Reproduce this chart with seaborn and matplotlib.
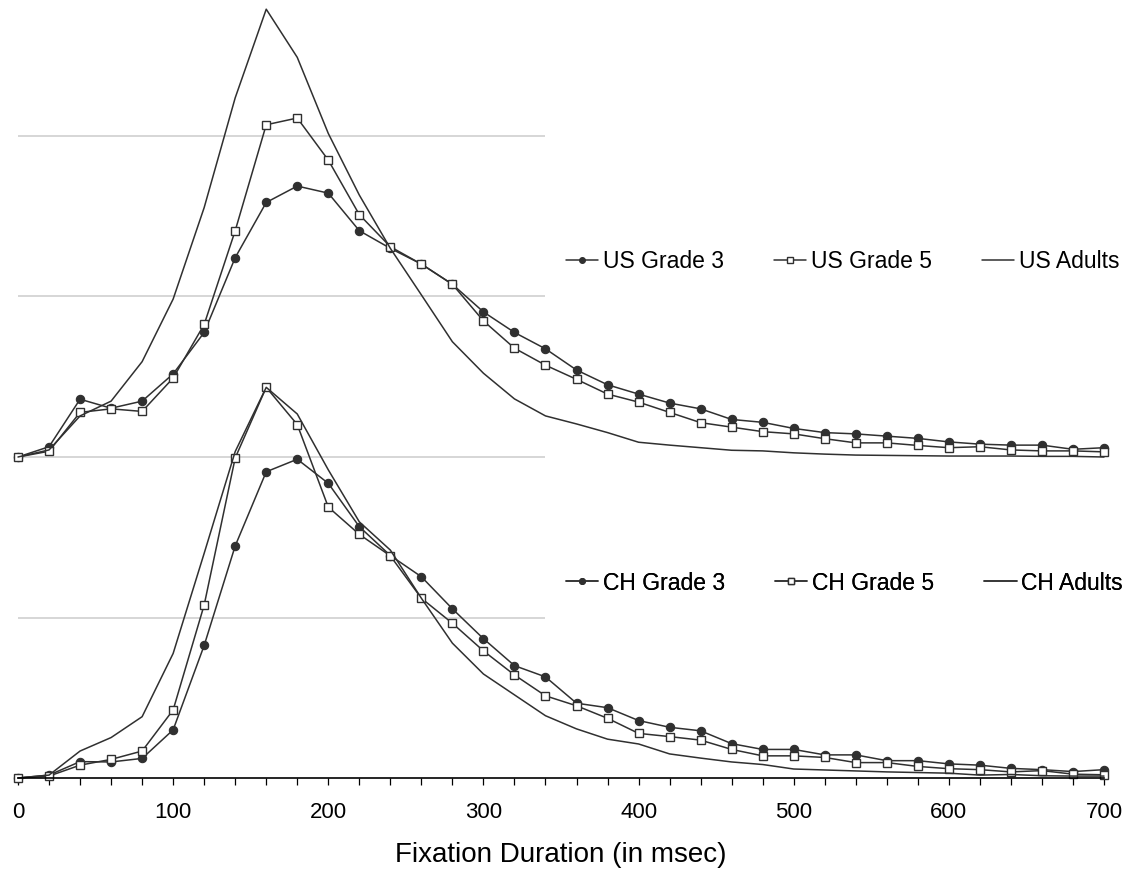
import numpy as np
import pandas as pd
import matplotlib
matplotlib.use('Agg')
import matplotlib.pyplot as plt
import seaborn as sns

# fixation duration bins (msec)
duration = [0, 20, 40, 60, 80, 100, 120, 140, 160, 180, 200, 220, 240, 260, 280, 300, 320, 340,
            360, 380, 400, 420, 440, 460, 480, 500, 520, 540, 560, 580, 600, 620, 640, 660, 680, 700]

# US readers (percent of fixations)
us_grade3 = [0, 0.32, 1.80, 1.52, 1.74, 2.59, 3.88, 6.21, 7.93, 8.44, 8.22, 7.05, 6.50, 6.01, 5.38, 4.52, 3.88, 3.37,
             2.71, 2.25, 1.96, 1.68, 1.50, 1.17, 1.08, 0.89, 0.76, 0.72, 0.65, 0.58, 0.47, 0.40, 0.37, 0.37, 0.24, 0.29]
us_grade5 = [0, 0.18, 1.39, 1.50, 1.42, 2.46, 4.13, 7.05, 10.35, 10.56, 9.25, 7.55, 6.55, 6.01, 5.38, 4.24, 3.39, 2.86,
             2.42, 1.96, 1.71, 1.39, 1.07, 0.93, 0.79, 0.72, 0.57, 0.44, 0.44, 0.36, 0.29, 0.32, 0.22, 0.19, 0.19, 0.16]
us_adults = [0, 0.22, 1.28, 1.74, 2.97, 4.92, 7.77, 11.19, 13.95, 12.45, 10.08, 8.16, 6.50, 5.05, 3.59, 2.61, 1.81, 1.28,
             1.03, 0.76, 0.46, 0.37, 0.29, 0.21, 0.19, 0.13, 0.09, 0.06, 0.05, 0.04, 0.03, 0.03, 0.03, 0.02, 0.02, 0.0]

# Chinese readers
ch_grade3 = [0, 0.09, 0.51, 0.50, 0.61, 1.50, 4.13, 7.23, 9.54, 9.93, 9.18, 7.83, 6.93, 6.27, 5.27, 4.34, 3.50, 3.15,
             2.33, 2.19, 1.79, 1.58, 1.47, 1.07, 0.89, 0.89, 0.72, 0.72, 0.54, 0.54, 0.44, 0.40, 0.30, 0.26, 0.20, 0.26]
ch_grade5 = [0, 0.06, 0.40, 0.58, 0.84, 2.12, 5.39, 9.97, 12.17, 11.01, 8.44, 7.59, 6.92, 5.60, 4.82, 3.96, 3.21, 2.56,
             2.25, 1.86, 1.39, 1.29, 1.18, 0.89, 0.69, 0.69, 0.64, 0.48, 0.48, 0.36, 0.29, 0.26, 0.19, 0.23, 0.12, 0.10]
ch_adults = [0, 0.09, 0.84, 1.26, 1.91, 3.88, 7.00, 10.17, 12.17, 11.34, 9.60, 7.98, 7.10, 5.60, 4.20, 3.24, 2.59, 1.94,
             1.53, 1.21, 1.06, 0.75, 0.62, 0.50, 0.42, 0.28, 0.25, 0.22, 0.19, 0.17, 0.15, 0.09, 0.11, 0.07, 0.06, 0.06]

groups = ['Grade 3', 'Grade 5', 'Adults']
US_OFFSET = 10  # US panel is stacked two gridlines above the CH panel

sns.set_style('white')
plt.rcParams['font.family'] = ['Liberation Sans', 'DejaVu Sans']
plt.rcParams['text.color'] = 'black'
plt.rcParams['axes.labelcolor'] = 'black'
plt.rcParams['xtick.color'] = 'black'

dark = '#303030'
styles = {
    'Grade 3': dict(marker='o', markersize=6, markerfacecolor=dark, markeredgecolor=dark, markeredgewidth=0.8),
    'Grade 5': dict(marker='s', markersize=6, markerfacecolor='white', markeredgecolor=dark, markeredgewidth=1.0),
    'Adults': dict(marker='', markeredgecolor=dark),
}

fig = plt.figure(figsize=(11.25, 8.71), dpi=100)
ax = fig.add_axes([18 / 1125, 1 - 778 / 871, (1104 - 18) / 1125, 778 / 871])

# partial gridlines on the left
ax.hlines([5, 10, 15, 20], 0, 340, color='#d0d0d0', lw=1.2, zorder=0)

panels = [('US', [us_grade3, us_grade5, us_adults], US_OFFSET, 262),
          ('CH', [ch_grade3, ch_grade5, ch_adults], 0, 583)]

for country, series, offset, leg_y in panels:
    handles = []
    labels = []
    for grp, vals in zip(groups, series):
        df = pd.DataFrame({'duration': duration, 'pct': np.array(vals) + offset})
        sns.lineplot(data=df, x='duration', y='pct', ax=ax, color=dark, lw=1.1,
                     clip_on=False, legend=False, **styles[grp])
        handles.append(ax.lines[-1])
        labels.append(f'{country} {grp}')
    leg = ax.legend(handles, labels, loc='center left',
                    bbox_to_anchor=(566 / 1125, 1 - leg_y / 871), bbox_transform=fig.transFigure,
                    ncol=3, frameon=False, fontsize=16.5, handlelength=1.4, handletextpad=0.2,
                    columnspacing=2.2, borderpad=0, borderaxespad=0, markerscale=0.7)
    for t in leg.get_texts():
        t.set_color('black')
    ax.add_artist(leg)

ax.set_xlim(0, 700)
ax.set_ylim(0, 778 * 5 / 160.5)
ax.set_yticks([])
ax.set_ylabel('')
ax.set_xticks(duration)
ax.set_xticklabels([str(d) if d % 100 == 0 else '' for d in duration])
ax.tick_params(axis='x', bottom=True, direction='out', length=5, width=0.9, color='black',
               labelcolor='black', labelsize=16, pad=12)
for side in ['left', 'top', 'right']:
    ax.spines[side].set_visible(False)
ax.spines['bottom'].set_color('black')
ax.spines['bottom'].set_linewidth(1.2)
ax.set_xlabel('Fixation Duration (in msec)', fontsize=20, labelpad=14, color='black')

fig.savefig('out.png', dpi=100)
